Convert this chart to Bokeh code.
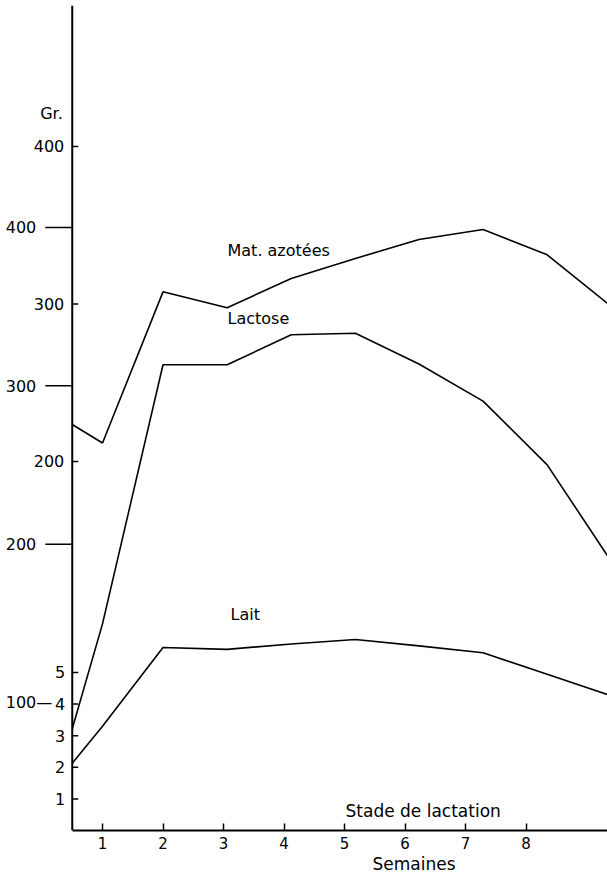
from bokeh.plotting import figure
from bokeh.models import Range1d, FixedTicker, Span, Label, Title
from bokeh.core.properties import value
from bokeh.embed import file_html
from bokeh.resources import INLINE

# ---- data ----
semaines = [0.5, 1.0, 2.0, 3.06, 4.12, 5.18, 6.23, 7.29, 8.35, 9.41]
lait_kg = [2.13, 3.30, 5.79, 5.73, 5.90, 6.04, 5.84, 5.62, 4.94, 4.26]
mat_azotees_g = [223.5, 211.7, 307.7, 297.6, 316.2, 328.9, 340.9, 347.3, 331.2, 298.4]
lactose_g = [83.5, 149.7, 313.3, 313.3, 332.2, 333.2, 313.8, 290.3, 250.1, 189.1]

semaine_ticks = [1, 2, 3, 4, 5, 6, 7, 8]
lait_ticks = [1, 2, 3, 4, 5]
azote_ticks = [200, 300, 400]
lactose_ticks = [200, 300, 400]
lactose_tick_100 = [100]

FONT = "DejaVu Sans"
FS = "16px"
x0 = semaines[0]

p = figure(width=607, height=877, output_backend="svg", toolbar_location=None,
           x_range=Range1d(-0.686, 9.347), y_range=Range1d(0, 26.095),
           y_axis_location=None,
           min_border_left=0, min_border_right=0, min_border_top=5, min_border_bottom=47)
p.outline_line_color = None
p.grid.visible = False
p.background_fill_color = "white"
p.border_fill_color = "white"
p.extra_y_ranges = {"azote": Range1d(-34.29, 489.5), "lactose": Range1d(19.26, 540.1)}

# x axis
ax = p.xaxis[0]
ax.ticker = FixedTicker(ticks=semaine_ticks)
ax.bounds = (x0, 9.5)
ax.axis_line_width = 2
ax.axis_line_color = "black"
ax.major_tick_in = 7
ax.major_tick_out = 0
ax.major_tick_line_width = 1.5
ax.minor_tick_line_color = None
ax.major_label_standoff = 6
ax.major_label_text_font = FONT
ax.major_label_text_font_size = "15px"
ax.major_label_text_color = "black"

p.add_layout(Title(text="Semaines", align="left", offset=372, text_font=FONT,
                   text_font_size="17px", text_font_style="normal", text_color="black",
                   standoff=0), "below")

# y axis line
p.add_layout(Span(location=x0, dimension="height", line_color="black", line_width=2))

# curves
p.line(semaines, lait_kg, line_color="black", line_width=1.6)
p.line(semaines, mat_azotees_g, line_color="black", line_width=1.6, y_range_name="azote")
p.line(semaines, lactose_g, line_color="black", line_width=1.6, y_range_name="lactose")

# Lait scale ticks (short, inside)
n = len(lait_ticks)
p.ray(x=[x0] * n, y=lait_ticks, length=6, length_units="screen", angle=0,
      line_color="black", line_width=1.5)
p.text(x=[x0] * n, y=lait_ticks, text=[str(t) for t in lait_ticks], x_offset=-7,
       text_align="right", text_baseline="middle", text_font=value(FONT),
       text_font_size=FS, text_color="black")

# Mat. azotées scale ticks (short, inside)
n = len(azote_ticks)
p.ray(x=[x0] * n, y=azote_ticks, length=6, length_units="screen", angle=0,
      line_color="black", line_width=1.5, y_range_name="azote")
p.text(x=[x0] * n, y=azote_ticks, text=[str(t) for t in azote_ticks], x_offset=-8,
       text_align="right", text_baseline="middle", text_font=value(FONT),
       text_font_size=FS, text_color="black", y_range_name="azote")

# Lactose scale ticks (long, outside)
n = len(lactose_ticks)
p.ray(x=[x0] * n, y=lactose_ticks, length=27, length_units="screen", angle=3.14159265,
      line_color="black", line_width=1.5, y_range_name="lactose")
p.text(x=[x0] * n, y=lactose_ticks, text=[str(t) for t in lactose_ticks], x_offset=-36,
       text_align="right", text_baseline="middle", text_font=value(FONT),
       text_font_size=FS, text_color="black", y_range_name="lactose")
p.text(x=[x0], y=lactose_tick_100, text=[f"{t}\u2014" for t in lactose_tick_100], x_offset=-20,
       text_align="right", text_baseline="middle", text_font=value(FONT),
       text_font_size=FS, text_color="black", y_range_name="lactose")

def lab(txt, x, y, size=FS, align="left"):
    p.add_layout(Label(x=x, y=y, text=txt, text_font=FONT, text_font_size=size,
                       text_align=align, text_baseline="middle", text_color="black"))

lab("Gr.", -0.03, 22.68)
lab("Mat. azotées", 3.066, 18.35)
lab("Lactose", 3.066, 16.21)
lab("Lait", 3.116, 6.83)
lab("Stade de lactation", 5.017, 0.63, size="17px")

open("out.html", "w").write(file_html(p, INLINE))
